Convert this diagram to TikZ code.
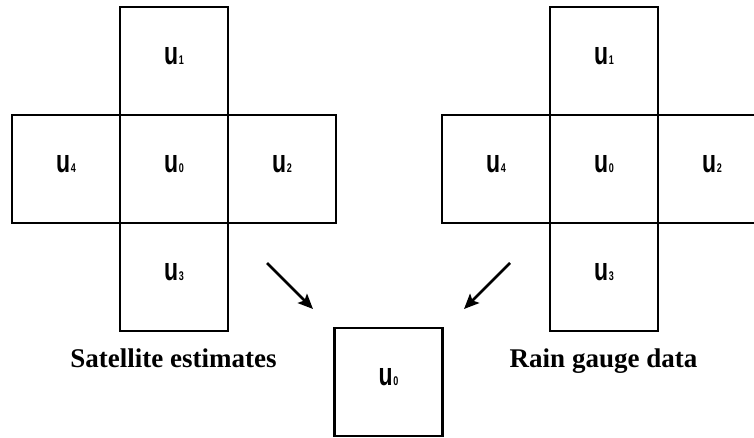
\documentclass[tikz,border=0pt]{standalone}
\usepackage{fontspec}
\setmainfont{Liberation Serif}
\newfontfamily\ufont{Liberation Sans Bold}
\usetikzlibrary{arrows.meta}
\newcommand{\ulab}[1]{\scalebox{1}[1.4]{\ufont\fontsize{23}{23}\selectfont u\kern0.6pt{\fontsize{9}{9}\selectfont #1}}}
\begin{document}
\begin{tikzpicture}[x=1pt,y=-1pt,
 cell/.style={draw, line width=2.7pt, minimum size=108pt, inner sep=0pt, outer sep=0pt},
 lab/.style={anchor=base, inner sep=0pt},
 capt/.style={font=\fontsize{27}{30}\selectfont\bfseries, anchor=base, inner sep=0pt},
 arr/.style={line width=2.6pt, -{Stealth[length=15pt,width=13pt,inset=3pt]}}]
\useasboundingbox (0,0) rectangle (754,437);
\clip (0,0) rectangle (754,437);
% left cross
\node[cell] (A1) at (174,61) {};
\node[cell] (A4) at (66,169) {};
\node[cell] (A0) at (174,169) {};
\node[cell] (A2) at (282,169) {};
\node[cell] (A3) at (174,277) {};
% right cross
\node[cell] (B1) at (604,61) {};
\node[cell] (B4) at (496,169) {};
\node[cell] (B0) at (604,169) {};
\node[cell] (B2) at (712,169) {};
\node[cell] (B3) at (604,277) {};
% result
\node[cell] (C0) at (388.5,382) {};
% labels
\foreach \n/\d in {A1/1,A4/4,A0/0,A2/2,A3/3,B1/1,B4/4,B0/0,B2/2,B3/3,C0/0}
  \node[lab] (\n t) at ([yshift=-3pt]\n.center) {\ulab{\d}};
% captions
\node[capt] (capA) at (173.5,367) {Satellite estimates};
\node[capt] (capB) at (603.5,367) {Rain gauge data};
% arrows
\coordinate (a1s) at (267,263);
\coordinate (a1e) at (313,309);
\coordinate (a2s) at (510,263);
\coordinate (a2e) at (464,309);
\draw[arr] (a1s) -- (a1e);
\draw[arr] (a2s) -- (a2e);
\end{tikzpicture}
\end{document}
